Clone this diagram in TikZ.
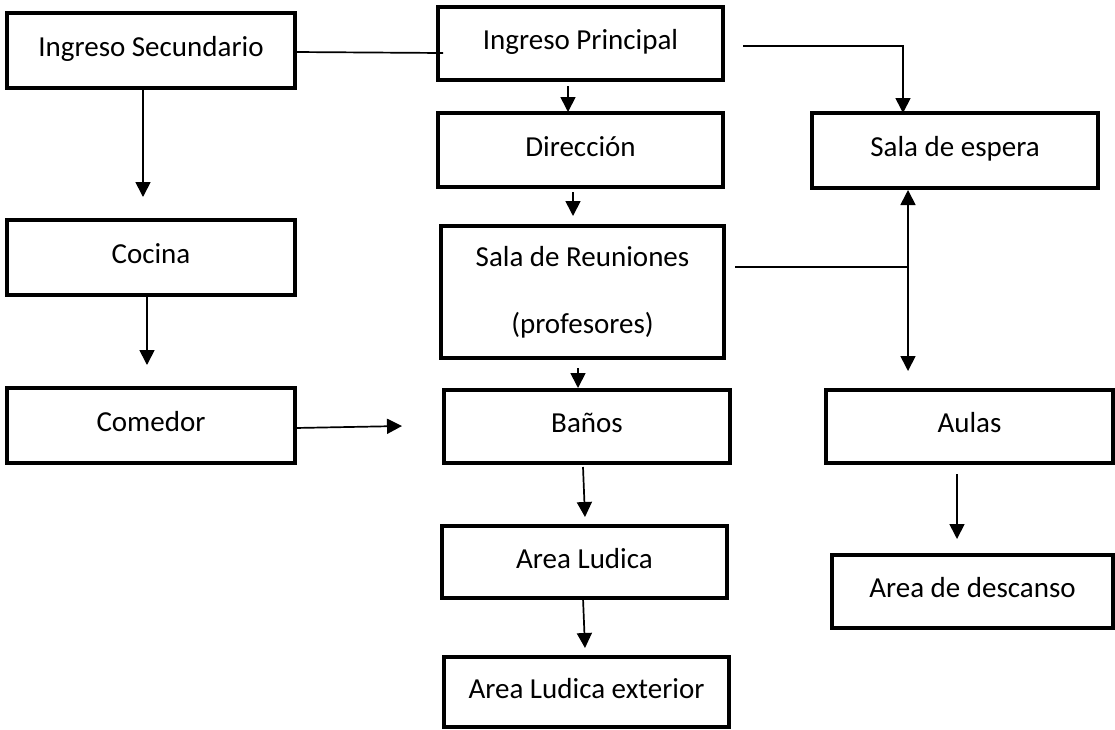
\documentclass[tikz,border=0pt]{standalone}
\usepackage{fontspec}
\setmainfont{Carlito}
\usetikzlibrary{calc,arrows.meta}
\begin{document}
\begin{tikzpicture}[x=1pt,y=-1pt,
  box/.style={draw=black, line width=4.5pt, inner sep=0pt, outer sep=0pt,
    font=\fontsize{29}{35}\selectfont, align=center},
  onel/.style={text height=24pt, text depth=11.6pt},
  conn/.style={line width=1.7pt},
  arr/.style={conn, -{Triangle[width=15pt,length=15pt]}},
  arrtwo/.style={conn, {Triangle[width=15pt,length=15pt]}-{Triangle[width=15pt,length=15pt]}}
]
\useasboundingbox (0,0) rectangle (1115,729);
\fill[white] (0,0) rectangle (1115,729);

\node[box,onel,minimum width=288pt,minimum height=75pt] (isec) at (151,50.5) {Ingreso Secundario};
\node[box,onel,minimum width=285pt,minimum height=73pt] (ip) at (580.5,43.5) {Ingreso Principal};
\node[box,onel,minimum width=285pt,minimum height=74pt] (dir) at (580.5,150) {Dirección};
\node[box,font=\fontsize{29}{67}\selectfont,minimum width=283pt,minimum height=132pt] (sr) at (582.5,292) {Sala de Reuniones\\(profesores)};
\node[box,onel,minimum width=286pt,minimum height=73pt] (banos) at (587,426.5) {Baños};
\node[box,onel,minimum width=285pt,minimum height=72pt] (al) at (584.5,562) {Area Ludica};
\node[box,onel,minimum width=285pt,minimum height=70pt] (ale) at (586.5,692) {Area Ludica exterior};
\node[box,onel,minimum width=286pt,minimum height=75pt] (sde) at (955,150.5) {Sala de espera};
\node[box,onel,minimum width=288pt,minimum height=75pt] (cocina) at (151,257.5) {Cocina};
\node[box,onel,minimum width=288pt,minimum height=75pt] (comedor) at (151,425.5) {Comedor};
\node[box,onel,minimum width=287pt,minimum height=73pt] (aulas) at (969.5,426.5) {Aulas};
\node[box,onel,minimum width=281pt,minimum height=73pt] (add) at (972.5,591.5) {Area de descanso};

\draw[conn] ($(isec.east)+(0,1.5)$) -- ($(ip.west)+(5,9.5)$);
\draw[arr] ($(ip.south)+(-12.5,6)$) -- ($(dir.north)+(-12.5,-1)$);
\draw[arr] ($(dir.south)+(-7.5,5)$) -- ($(sr.north)+(-9.5,-10)$);
\draw[arr] ($(sr.south)+(-4.5,10)$) -- ($(banos.north)+(-9,-2)$);
\draw[arr] ($(banos.south)+(-4,4)$) -- ($(al.north)+(0.5,-9)$);
\draw[arr] ($(al.south)+(-1.5,0)$) -- ($(ale.north)+(-1.5,-9)$);
\draw[arr] ($(isec.south)+(-8,0)$) -- ($(cocina.north)+(-8,-23)$);
\draw[arr] ($(cocina.south)+(-4,0)$) -- ($(comedor.north)+(-4,-23)$);
\draw[arr] ($(comedor.east)+(0,2.5)$) -- ($(banos.west)+(-42,-0.5)$);
\draw[arr] ($(ip.east)+(20,2.5)$) -| ($(sde.north)+(-52,0)$);
\coordinate (jn) at ($(sde.south)+(-47,79)$);
\draw[conn] ($(sr.east)+(11,-25)$) -- (jn);
\draw[arrtwo] ($(sde.south)+(-47,2)$) -- ($(aulas.north)+(-61.5,-19)$);
\draw[arr] ($(aulas.south)+(-12.5,11)$) -- ($(add.north)+(-15.5,-16)$);
\end{tikzpicture}
\end{document}
